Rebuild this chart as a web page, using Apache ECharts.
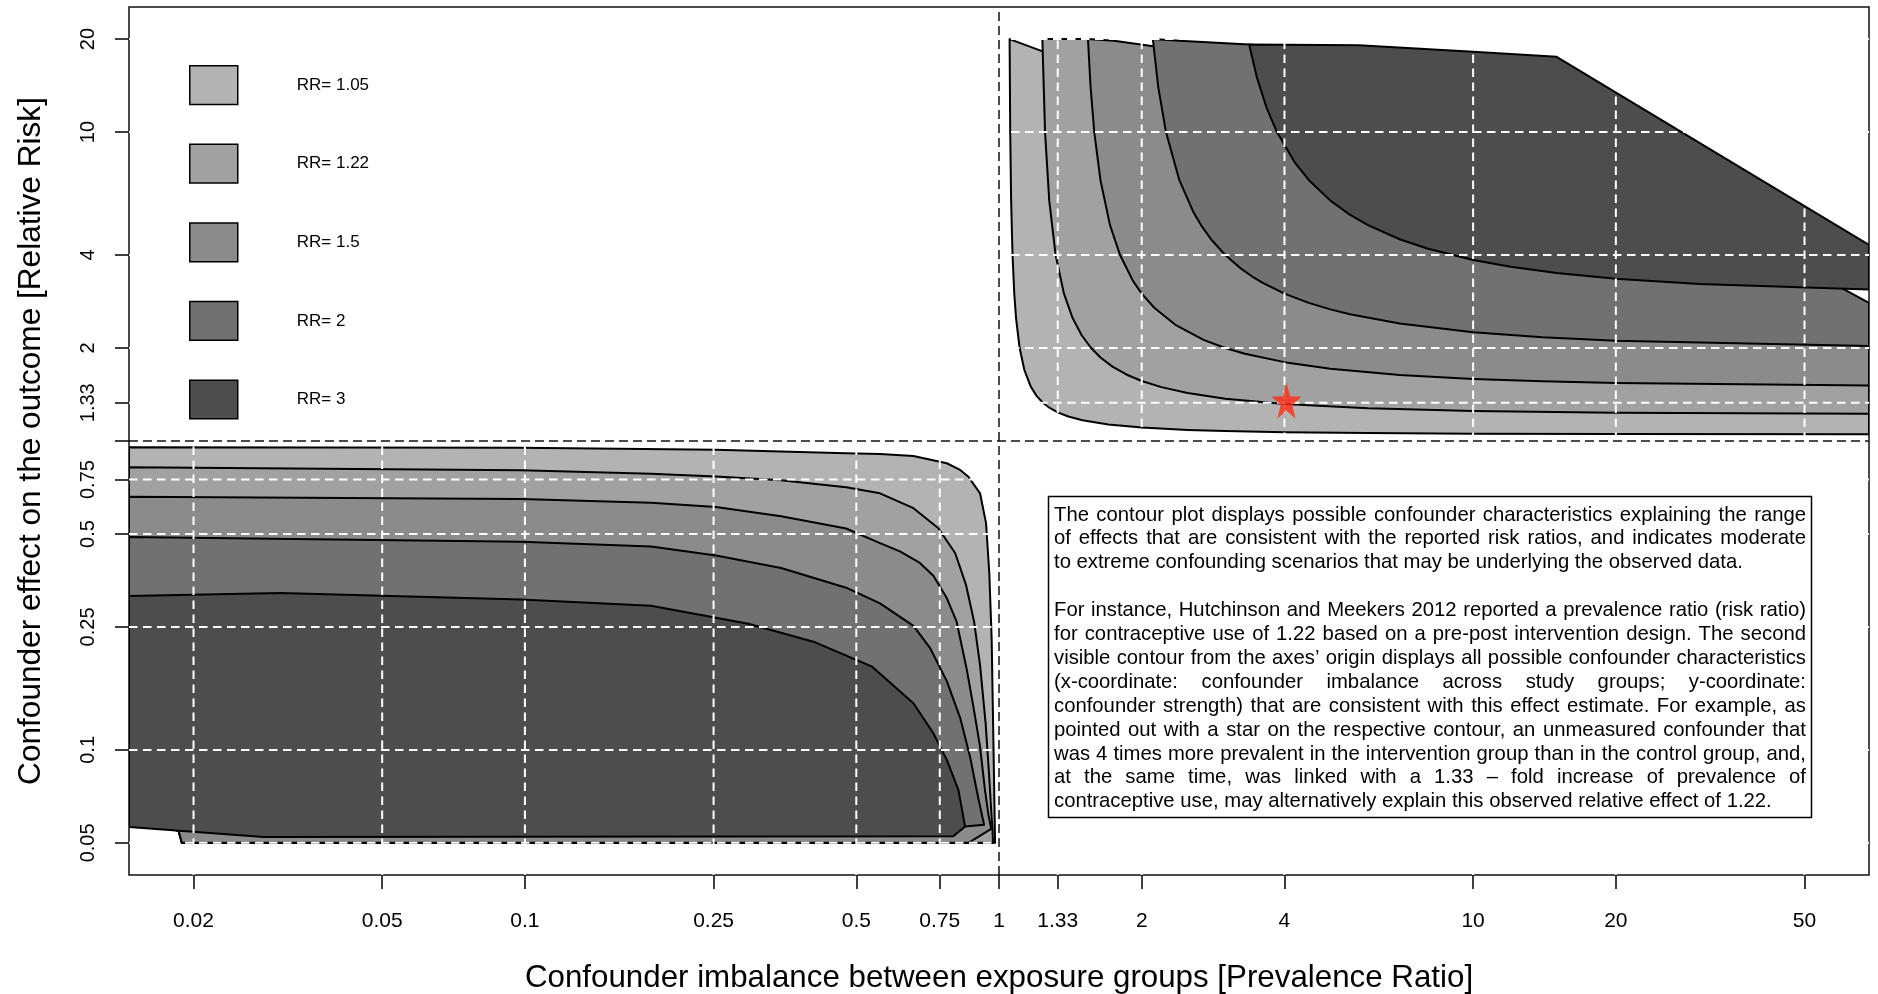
<!DOCTYPE html>
<html>
<head>
<meta charset="utf-8">
<title>Confounder contour plot</title>
<script src="https://cdn.jsdelivr.net/npm/echarts@6/dist/echarts.min.js"></script>
<style>
html,body{margin:0;padding:0;background:#ffffff;}
#chart{width:1878px;height:994px;}
</style>
</head>
<body>
<div id="chart"></div>
<script>
// ---------------- data ----------------
const xTickValues = [0.02, 0.05, 0.1, 0.25, 0.5, 0.75, 1, 1.33, 2, 4, 10, 20, 50];
const xTickLabels = ['0.02', '0.05', '0.1', '0.25', '0.5', '0.75', '1', '1.33', '2', '4', '10', '20', '50'];
const yTickValues = [0.05, 0.1, 0.25, 0.5, 0.75, 1, 1.33, 2, 4, 10, 20];
const yTickLabels = ['0.05', '0.1', '0.25', '0.5', '0.75', '', '1.33', '2', '4', '10', '20'];
const xRange = [0.01462, 68.39];
const yRange = [0.03935, 25.41];
const levelNames = ['RR= 1.05', 'RR= 1.22', 'RR= 1.5', 'RR= 2', 'RR= 3'];

// upper-right contour regions (x = prevalence ratio, y = relative risk)
const upper105 = [[1.0528,20],[1.0559,10],[1.0606,6],[1.0678,4],[1.0769,3],[1.0862,2.5],[1.1053,2],[1.1308,1.7],[1.1667,1.5],[1.2,1.4],[1.2375,1.33],[1.279,1.279],[1.33,1.2375],[1.4,1.2],[1.5,1.1667],[1.7,1.1308],[2,1.1053],[2.5,1.0862],[3,1.0769],[4,1.0678],[6,1.0606],[10,1.0559],[20,1.0528],[68.39,1.0508],[68.39,1.35],[1.236,18.25]];
const upper122 = [[1.2343,20],[1.2506,10],[1.2762,6],[1.3165,4],[1.3708,3],[1.4297,2.5],[1.4939,2.2],[1.5641,2],[1.639,1.86],[1.738,1.738],[1.86,1.639],[2,1.5641],[2.2,1.4939],[2.5,1.4297],[3,1.3708],[4,1.3165],[6,1.2762],[10,1.2506],[20,1.2343],[68.39,1.2243],[68.39,1.8],[1.54,20]];
const upper150 = [[1.5405,20],[1.56,14],[1.5882,10],[1.6364,7],[1.7143,5],[1.8,4],[1.9167,3.3],[2,3],[2.125,2.7],[2.366,2.366],[2.7,2.125],[3,2],[3.3,1.9167],[4,1.8],[5,1.7143],[7,1.6364],[10,1.5882],[14,1.56],[20,1.5405],[68.39,1.5112],[68.39,2.4],[2.115,18.98],[1.748,19.75]];
const upper200 = [[2.1111,20],[2.1667,14],[2.25,10],[2.4,7],[2.5714,5.5],[2.667,5],[2.8,4.5],[3,4],[3.25,3.6],[3.414,3.414],[3.6,3.25],[4,3],[4.5,2.8],[5,2.667],[5.5,2.5714],[7,2.4],[10,2.25],[14,2.1667],[20,2.1111],[68.39,2.0301],[68.39,2.8],[7.83,17.0],[3.37,19.22],[2.4,19.75]];
const upper300 = [[3.37,19.22],[3.5,15],[3.6667,12],[3.857,10],[4.2,8],[4.5,7],[5,6],[5.449,5.449],[6,5],[7,4.5],[8,4.2],[10,3.857],[12,3.6667],[15,3.5],[20,3.3529],[30,3.2222],[68.39,3.0917],[68.39,4.31],[15.0,17.53],[10.0,18.2],[5.74,19.12]];

// lower-left contour regions
const lower105 = [[0.01462,0.955],[0.0981,0.95],[0.253,0.937],[0.476,0.912],[0.561,0.908],[0.66,0.894],[0.776,0.847],[0.828,0.806],[0.862,0.766],[0.912,0.677],[0.939,0.542],[0.954,0.373],[0.965,0.227],[0.973,0.108],[0.981,0.05],[0.0189,0.05],[0.0186,0.0547],[0.01462,0.06]];
const lower122 = [[0.01462,0.822],[0.0981,0.804],[0.1845,0.783],[0.253,0.767],[0.347,0.746],[0.476,0.708],[0.561,0.677],[0.66,0.606],[0.744,0.523],[0.808,0.434],[0.852,0.342],[0.886,0.26],[0.912,0.188],[0.937,0.122],[0.953,0.083],[0.964,0.0616],[0.969,0.0551],[0.971,0.05],[0.0189,0.05],[0.0186,0.0547],[0.01462,0.06]];
const lower150 = [[0.01462,0.66],[0.0981,0.649],[0.1845,0.631],[0.253,0.611],[0.347,0.571],[0.476,0.521],[0.561,0.467],[0.618,0.439],[0.681,0.403],[0.727,0.366],[0.776,0.31],[0.814,0.26],[0.855,0.182],[0.883,0.138],[0.912,0.1025],[0.934,0.0742],[0.95,0.0616],[0.963,0.0555],[0.862,0.05],[0.0189,0.05],[0.0186,0.0547],[0.01462,0.06]];
const lower200 = [[0.01462,0.489],[0.0981,0.4716],[0.1845,0.4552],[0.253,0.426],[0.347,0.388],[0.476,0.335],[0.561,0.298],[0.66,0.252],[0.715,0.214],[0.776,0.167],[0.828,0.127],[0.869,0.0949],[0.903,0.0705],[0.93,0.0572],[0.848,0.0565],[0.01462,0.0567]];
const lower300 = [[0.01462,0.315],[0.0305,0.322],[0.0981,0.307],[0.1845,0.293],[0.296,0.256],[0.406,0.224],[0.54,0.186],[0.66,0.1416],[0.727,0.1132],[0.776,0.0928],[0.821,0.0742],[0.848,0.0565],[0.801,0.0525],[0.0281,0.0522],[0.01462,0.0563]];

const starPoint = [[4, 1.33]];

const noteLines = [
  'The contour plot displays possible confounder characteristics explaining the range',
  'of effects that are consistent with the reported risk ratios, and indicates moderate',
  'to extreme confounding scenarios that may be underlying the observed data.',
  '',
  'For instance, Hutchinson and Meekers 2012 reported a prevalence ratio (risk ratio)',
  'for contraceptive use of 1.22 based on a pre-post intervention design. The second',
  'visible contour from the axes\u2019 origin displays all possible confounder characteristics',
  '(x-coordinate: confounder imbalance across study groups; y-coordinate:',
  'confounder strength) that are consistent with this effect estimate. For example, as',
  'pointed out with a star on the respective contour, an unmeasured confounder that',
  'was 4 times more prevalent in the intervention group than in the control group, and,',
  'at the same time, was linked with a 1.33 \u2013 fold increase of prevalence of',
  'contraceptive use, may alternatively explain this observed relative effect of 1.22.'
];

// ---------------- styling / building ----------------
const FONT = '"Liberation Sans", Arial, Helvetica, sans-serif';
const bandColors = ['#b3b3b3', '#a1a1a1', '#8b8b8b', '#717171', '#4d4d4d'];
const upperBands = [upper105, upper122, upper150, upper200, upper300];
const lowerBands = [lower105, lower122, lower150, lower200, lower300];

function labelFor(values, labels) {
  return function (v) {
    let best = 0, bd = Infinity;
    values.forEach((t, i) => { const d = Math.abs(Math.log(v / t)); if (d < bd) { bd = d; best = i; } });
    return labels[best];
  };
}

function bandSeries(name, pts, fill) {
  return {
    type: 'custom', name: name, coordinateSystem: 'cartesian2d', clip: true, silent: true, z: 2,
    itemStyle: { color: fill },
    data: [pts[0]],
    renderItem: function (params, api) {
      return {
        type: 'polygon',
        shape: { points: pts.map(p => api.coord(p)) },
        style: { fill: fill, stroke: '#000', lineWidth: 2, lineJoin: 'round' }
      };
    }
  };
}

const series = [];
for (let i = 0; i < 5; i++) {
  series.push(bandSeries(levelNames[i], upperBands[i], bandColors[i]));
  series.push(bandSeries(levelNames[i], lowerBands[i], bandColors[i]));
}

// white dashed reference grid at tick positions
series.push({
  type: 'custom', silent: true, clip: true, z: 3, data: [[1, 1]],
  renderItem: function (params, api) {
    const ch = [];
    const st = { stroke: '#ffffff', lineWidth: 2, lineDash: [8.5, 5.5] };
    xTickValues.filter(v => v !== 1).forEach(v => {
      const a = api.coord([v, yRange[0]]), b = api.coord([v, yRange[1]]);
      ch.push({ type: 'line', shape: { x1: a[0], y1: a[1], x2: b[0], y2: b[1] }, style: st });
    });
    yTickValues.filter(v => v !== 1).forEach(v => {
      const a = api.coord([xRange[0], v]), b = api.coord([xRange[1], v]);
      ch.push({ type: 'line', shape: { x1: a[0], y1: a[1], x2: b[0], y2: b[1] }, style: st });
    });
    return { type: 'group', children: ch };
  }
});

// black dashed lines at x = 1 and y = 1
series.push({
  type: 'custom', silent: true, clip: true, z: 4, data: [[1, 1]],
  renderItem: function (params, api) {
    const st = { stroke: '#111', lineWidth: 1.5, lineDash: [9, 5] };
    const a = api.coord([1, yRange[0]]), b = api.coord([1, yRange[1]]);
    const c = api.coord([xRange[0], 1]), d = api.coord([xRange[1], 1]);
    return { type: 'group', children: [
      { type: 'line', shape: { x1: a[0], y1: a[1], x2: b[0], y2: b[1] }, style: st },
      { type: 'line', shape: { x1: c[0], y1: c[1], x2: d[0], y2: d[1] }, style: st }
    ] };
  }
});

// star marker
series.push({
  type: 'scatter', silent: true, z: 6, data: starPoint,
  symbol: 'path://M50,0 L61.8,35.1 L98.1,35.1 L68.7,56.8 L79.4,91 L50,70 L20.6,91 L31.3,56.8 L1.9,35.1 L38.2,35.1 Z',
  symbolSize: [30, 36], symbolOffset: [2, -2],
  itemStyle: { color: '#ff2a14' }
});

// justified note text
const boxFont = '20.3px ' + FONT;
const ctx = document.createElement('canvas').getContext('2d');
ctx.font = boxFont;
const textLeft = 1054, textRight = 1806, textTop = 515, lineH = 23.9;
const noteEls = [{
  type: 'rect', shape: { x: 1048.5, y: 496.5, width: 763, height: 321 },
  style: { fill: '#fff', stroke: '#000', lineWidth: 1.5 }, z: 100
}];
noteLines.forEach((line, i) => {
  if (!line) return;
  const y = textTop + i * lineH;
  const last = !noteLines[i + 1];
  const base = { font: boxFont, fill: '#000', align: 'left', verticalAlign: 'middle', textAlign: 'left', textVerticalAlign: 'middle' };
  if (last) {
    noteEls.push({ type: 'text', x: textLeft, y: y, z: 101, style: Object.assign({ text: line }, base) });
    return;
  }
  const words = line.split(' ');
  const widths = words.map(w => ctx.measureText(w).width);
  const total = widths.reduce((s, w) => s + w, 0);
  const gap = (textRight - textLeft - total) / (words.length - 1);
  let x = textLeft;
  words.forEach((w, k) => {
    noteEls.push({ type: 'text', x: x, y: y, z: 101, style: Object.assign({ text: w }, base) });
    x += widths[k] + gap;
  });
});

const chart = echarts.init(document.getElementById('chart'), null, { renderer: 'canvas' });
chart.setOption({
  animation: false,
  backgroundColor: '#ffffff',
  textStyle: { fontFamily: FONT },
  grid: { left: 129, right: 9, top: 7, bottom: 119, show: true, borderColor: '#111', borderWidth: 1.5, backgroundColor: 'transparent', containLabel: false, outerBoundsMode: 'none' },
  legend: {
    orient: 'vertical', left: 189, top: 65, padding: 0,
    itemWidth: 48, itemHeight: 38.7, itemGap: 38.4, icon: 'rect', selectedMode: false,
    textStyle: { fontSize: 17, color: '#000', fontFamily: FONT, padding: [0, 0, 0, 54] },
    data: levelNames.map((n, i) => ({ name: n, itemStyle: { color: bandColors[i], borderColor: '#000', borderWidth: 1.5 } }))
  },
  xAxis: {
    type: 'log', logBase: 10, min: xRange[0], max: xRange[1],
    name: 'Confounder imbalance between exposure groups [Prevalence Ratio]',
    nameLocation: 'middle', nameGap: 88,
    nameTextStyle: { fontSize: 31.3, color: '#000', fontFamily: FONT },
    axisLine: { show: false },
    splitLine: { show: false }, minorTick: { show: false }, minorSplitLine: { show: false },
    axisTick: { show: true, inside: false, length: 14, lineStyle: { color: '#000', width: 1.5 }, customValues: xTickValues },
    axisLabel: { customValues: xTickValues, formatter: labelFor(xTickValues, xTickLabels), margin: 36, fontSize: 21, color: '#000', fontFamily: FONT }
  },
  yAxis: {
    type: 'log', logBase: 10, min: yRange[0], max: yRange[1],
    name: 'Confounder effect on the outcome [Relative Risk]',
    nameLocation: 'middle', nameGap: 82, nameRotate: 90,
    nameTextStyle: { fontSize: 31.6, color: '#000', fontFamily: FONT },
    axisLine: { show: false },
    splitLine: { show: false }, minorTick: { show: false }, minorSplitLine: { show: false },
    axisTick: { show: true, inside: false, length: 14, lineStyle: { color: '#000', width: 1.5 }, customValues: yTickValues },
    axisLabel: { customValues: yTickValues, formatter: labelFor(yTickValues, yTickLabels), rotate: 90, margin: 31, fontSize: 20, color: '#000', fontFamily: FONT }
  },
  graphic: { elements: noteEls },
  series: series
});
</script>
</body>
</html>
